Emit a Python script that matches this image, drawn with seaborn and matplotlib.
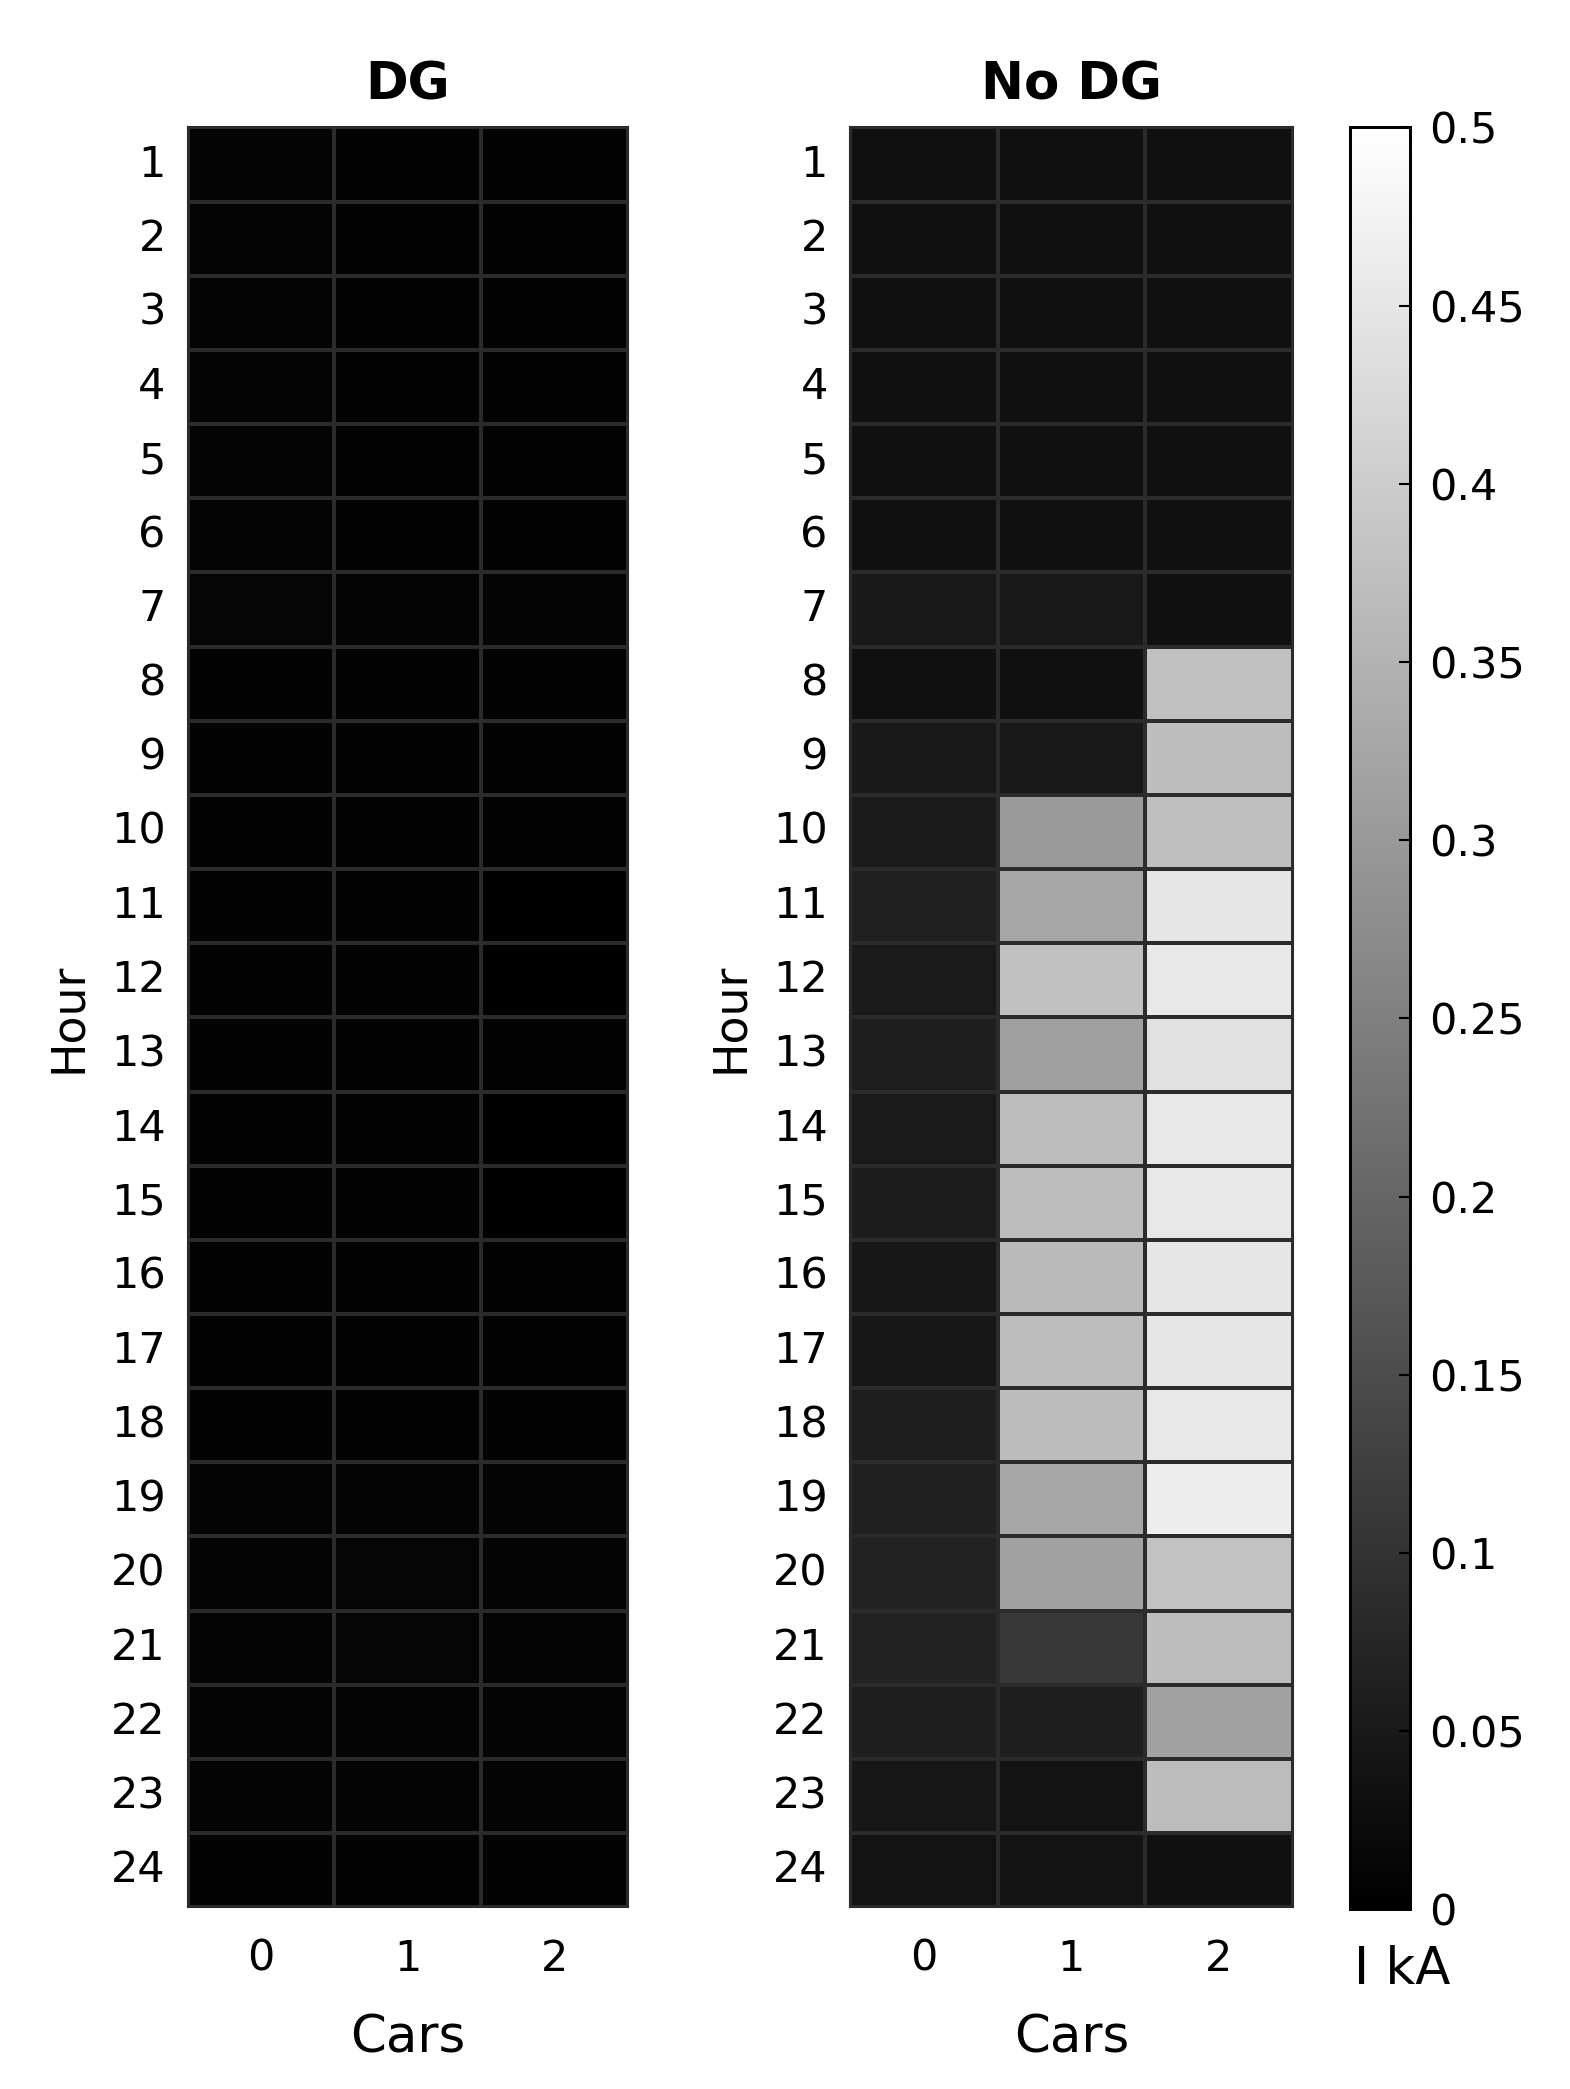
import numpy as np
import pandas as pd
import matplotlib
matplotlib.use("Agg")
import matplotlib.pyplot as plt
import seaborn as sns

hours = list(range(1, 25))
cars = [0, 1, 2]

# current (kA) per hour, for 0 / 1 / 2 cars
dg_0 = [0.008, 0.008, 0.008, 0.008, 0.008, 0.008, 0.010, 0.006, 0.006, 0.006, 0.006, 0.006,
        0.006, 0.006, 0.006, 0.006, 0.004, 0.006, 0.008, 0.008, 0.008, 0.008, 0.008, 0.006]
dg_1 = [0.006, 0.006, 0.006, 0.006, 0.006, 0.006, 0.008, 0.004, 0.004, 0.004, 0.004, 0.004,
        0.004, 0.004, 0.004, 0.004, 0.004, 0.006, 0.008, 0.010, 0.010, 0.008, 0.008, 0.006]
dg_2 = [0.004, 0.004, 0.004, 0.004, 0.004, 0.004, 0.008, 0.004, 0.004, 0.004, 0.002, 0.002,
        0.004, 0.002, 0.002, 0.004, 0.004, 0.006, 0.008, 0.008, 0.008, 0.008, 0.008, 0.006]

nodg_0 = [0.033, 0.033, 0.033, 0.033, 0.033, 0.033, 0.049, 0.035, 0.049, 0.053, 0.063, 0.051,
          0.059, 0.051, 0.055, 0.045, 0.045, 0.059, 0.063, 0.067, 0.067, 0.061, 0.045, 0.039]
nodg_1 = [0.033, 0.033, 0.033, 0.033, 0.033, 0.033, 0.049, 0.033, 0.049, 0.302, 0.325, 0.376,
          0.314, 0.370, 0.370, 0.365, 0.370, 0.368, 0.325, 0.318, 0.110, 0.061, 0.039, 0.039]
nodg_2 = [0.033, 0.033, 0.033, 0.033, 0.033, 0.033, 0.033, 0.376, 0.370, 0.374, 0.451, 0.455,
          0.440, 0.455, 0.455, 0.451, 0.451, 0.455, 0.463, 0.380, 0.370, 0.318, 0.370, 0.033]

dg = pd.DataFrame({0: dg_0, 1: dg_1, 2: dg_2}, index=hours)
nodg = pd.DataFrame({0: nodg_0, 1: nodg_1, 2: nodg_2}, index=hours)

plt.rcParams['font.family'] = ['DejaVu Sans']

fig = plt.figure(figsize=(15.7, 20.89), dpi=100)
ax1 = fig.add_axes([0.1197, 0.087, 0.280, 0.852])
ax2 = fig.add_axes([0.5414, 0.087, 0.282, 0.852])
cax = fig.add_axes([0.860, 0.086, 0.038, 0.853])

kw = dict(cmap='gray', vmin=0, vmax=0.5, linewidths=1.5, linecolor='#2b2b2b')
sns.heatmap(dg, ax=ax1, cbar=False, **kw)
sns.heatmap(nodg, ax=ax2, cbar_ax=cax, **kw)

for ax, title in [(ax1, 'DG'), (ax2, 'No DG')]:
    ax.set_title(title, fontsize=37, fontweight='bold', pad=20)
    ax.set_xlabel('Cars', fontsize=37, labelpad=24)
    ax.set_ylabel('Hour', fontsize=33, labelpad=14)
    ax.tick_params(axis='y', length=0, labelsize=31, pad=16)
    ax.tick_params(axis='x', length=0, labelsize=31, pad=22)
    ax.set_yticklabels([str(h) for h in hours], rotation=0)
    ax.set_xticklabels([str(c) for c in cars], rotation=0)
    for s in ax.spines.values():
        s.set_visible(True)
        s.set_color('#2b2b2b')
        s.set_linewidth(1.5)

ticks = [0, 0.05, 0.1, 0.15, 0.2, 0.25, 0.3, 0.35, 0.4, 0.45, 0.5]
cax.set_yticks(ticks)
cax.set_yticklabels(['0', '0.05', '0.1', '0.15', '0.2', '0.25', '0.3', '0.35', '0.4', '0.45', '0.5'])
cax.tick_params(labelsize=31, length=8, direction='in', width=1.5, pad=14)
for s in cax.spines.values():
    s.set_visible(True)
    s.set_color('black')
    s.set_linewidth(2)
fig.text(0.893, 0.057, 'I kA', fontsize=37, ha='center', va='center')

fig.savefig('out.png', dpi=100)
